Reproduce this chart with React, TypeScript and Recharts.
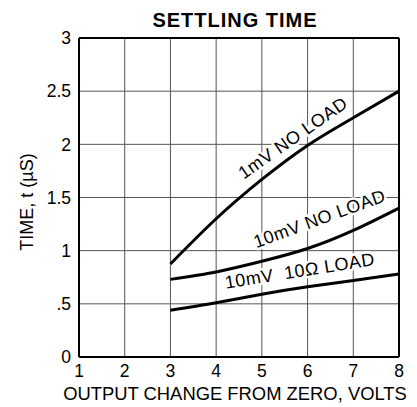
import React from 'react';
import { LineChart, Line, XAxis, YAxis, CartesianGrid, ReferenceLine, ReferenceDot } from 'recharts';

const xValues = [3, 4, 5, 6, 7, 8];
const oneMvNoLoad = [0.875, 1.3, 1.67, 1.99, 2.25, 2.5];
const tenMvNoLoad = [0.73, 0.8, 0.9, 1.02, 1.19, 1.4];
const tenMvTenOhmLoad = [0.44, 0.51, 0.59, 0.66, 0.72, 0.78];

const xTicks = [1, 2, 3, 4, 5, 6, 7, 8];
const yTicks = [0, 0.5, 1, 1.5, 2, 2.5, 3];
const yTickLabels = ['0', '.5', '1', '1.5', '2', '2.5', '3'];

const curveLabels = [
  { text: '1mV NO LOAD', x: 5.68, y: 2.06, angle: -35 },
  { text: '10mV NO LOAD', x: 6.26, y: 1.3, angle: -20 },
  { text: '10mV\u00A0\u00A010\u03A9 LOAD', x: 5.83, y: 0.81, angle: -9 },
];

const data = xValues.map((x, i) => ({
  x,
  a: oneMvNoLoad[i],
  b: tenMvNoLoad[i],
  c: tenMvTenOhmLoad[i],
}));

const FONT = '"Liberation Sans", Arial, Helvetica, sans-serif';

export default function App() {
  return (
    <div style={{ position: 'absolute', left: 0, top: 0, width: 417, height: 407, background: '#fff' }}>
      <div
        style={{
          position: 'absolute',
          left: 0,
          top: 8,
          width: 470,
          textAlign: 'center',
          fontFamily: FONT,
          fontWeight: 'bold',
          fontSize: 20,
          letterSpacing: 1,
          color: '#000',
          lineHeight: '24px',
        }}
      >
        SETTLING TIME
      </div>
      <LineChart
        width={417}
        height={407}
        data={data}
        margin={{ top: 38, right: 18, bottom: 0, left: 0 }}
        style={{ fontFamily: FONT }}
      >
        <CartesianGrid stroke="#555" strokeWidth={1} />
        <XAxis
          dataKey="x"
          type="number"
          domain={[1, 8]}
          ticks={xTicks}
          interval={0}
          height={50}
          tickSize={0}
          tickMargin={8}
          axisLine={{ stroke: '#000', strokeWidth: 2 }}
          tick={{ fill: '#000', fontSize: 17.5, fontFamily: FONT }}
          label={{
            content: () => (
              <text
                x={235}
                y={400}
                textAnchor="middle"
                fill="#000"
                fontSize={18.4}
                fontFamily={FONT}
              >
                OUTPUT CHANGE FROM ZERO, VOLTS
              </text>
            ),
          }}
        />
        <YAxis
          type="number"
          domain={[0, 3]}
          ticks={yTicks}
          interval={0}
          width={79}
          tickSize={0}
          tickMargin={8}
          axisLine={{ stroke: '#000', strokeWidth: 2 }}
          tickFormatter={(v: number) => yTickLabels[yTicks.indexOf(v)] ?? String(v)}
          tick={{ fill: '#000', fontSize: 17.5, fontFamily: FONT }}
          label={{
            content: () => (
              <text
                x={27}
                y={202}
                transform="rotate(-90 27 202)"
                textAnchor="middle"
                dominantBaseline="central"
                fill="#000"
                fontSize={18}
                fontFamily={FONT}
              >
                TIME, t (µS)
              </text>
            ),
          }}
        />
        <ReferenceLine y={3} stroke="#000" strokeWidth={2} />
        <ReferenceLine x={8} stroke="#000" strokeWidth={2} />
        <Line type="natural" dataKey="a" stroke="#000" strokeWidth={3} dot={false} isAnimationActive={false} />
        <Line type="natural" dataKey="b" stroke="#000" strokeWidth={3} dot={false} isAnimationActive={false} />
        <Line type="natural" dataKey="c" stroke="#000" strokeWidth={3} dot={false} isAnimationActive={false} />
        {curveLabels.map((l) => (
          <ReferenceDot
            key={l.text}
            x={l.x}
            y={l.y}
            r={0}
            shape={(p: any) => (
              <text
                x={p.cx}
                y={p.cy}
                transform={`rotate(${l.angle} ${p.cx} ${p.cy})`}
                textAnchor="middle"
                dominantBaseline="central"
                fill="#000"
                stroke="#fff"
                strokeWidth={5}
                strokeLinejoin="round"
                paintOrder="stroke"
                fontSize={18}
                letterSpacing={0.5}
                fontFamily={FONT}
              >
                {l.text}
              </text>
            )}
          />
        ))}
      </LineChart>
    </div>
  );
}
